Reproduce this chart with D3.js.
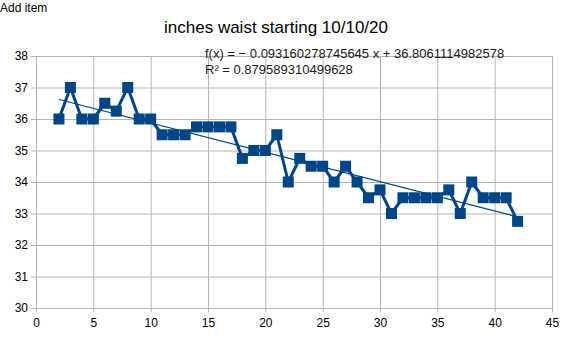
<!DOCTYPE html>
<html>
<head>
<meta charset="utf-8">
<script src="https://cdn.jsdelivr.net/npm/d3@7"></script>
<style>
  html, body { margin: 0; padding: 0; background: #fff; }
  svg { display: block; font-family: "Liberation Sans", Arial, sans-serif; }
</style>
</head>
<body>
<svg id="chart" width="570" height="340"></svg>
<script>
// Measurement day index and waist size in inches
const days = [2,3,4,5,6,7,8,9,10,11,12,13,14,15,16,17,18,19,20,21,22,23,24,25,26,27,28,29,30,31,32,33,34,35,36,37,38,39,40,41,42];
const waist = [36,37,36,36,36.5,36.25,37,36,36,35.5,35.5,35.5,35.75,35.75,35.75,35.75,34.75,35,35,35.5,34,34.75,34.5,34.5,34,34.5,34,33.5,33.75,33,33.5,33.5,33.5,33.5,33.75,33,34,33.5,33.5,33.5,32.75];

// Linear trend line coefficients and fit quality
const trendSlope = -0.093160278745645;
const trendIntercept = 36.8061114982578;
const trendR2 = 0.879589310499628;

const xTicks = [0,5,10,15,20,25,30,35,40,45];
const yTicks = [30,31,32,33,34,35,36,37,38];

const titleText = "inches waist starting 10/10/20";
const headerText = "Add item";

const svg = d3.select("#chart");
const plotLeft = 36, plotRight = 552, plotTop = 56, plotBottom = 308;

const x = d3.scaleLinear().domain([0, 45]).range([plotLeft, plotRight]);
const y = d3.scaleLinear().domain([30, 38]).range([plotBottom, plotTop]);

const gridColor = "#b3b3b3";

// Header text
svg.append("text")
  .attr("x", 0).attr("y", 12)
  .attr("font-size", 12)
  .attr("fill", "#000")
  .text(headerText);

// Title
svg.append("text")
  .attr("x", 276).attr("y", 33)
  .attr("text-anchor", "middle")
  .attr("font-size", 17)
  .attr("fill", "#000")
  .text(titleText);

// Horizontal grid lines and y axis
const yAxis = d3.axisLeft(y).tickValues(yTicks).tickSize(-(plotRight - plotLeft)).tickPadding(8).tickFormat(d3.format("d"));
const gy = svg.append("g").attr("transform", `translate(${plotLeft},0)`).call(yAxis);
gy.select(".domain").remove();
gy.selectAll(".tick line").attr("stroke", gridColor).attr("x1", -5);
gy.selectAll(".tick text").attr("font-size", 12).attr("fill", "#000").attr("font-family", "Liberation Sans, Arial, sans-serif");

// Vertical grid lines and x axis
const xAxis = d3.axisBottom(x).tickValues(xTicks).tickSize(-(plotBottom - plotTop)).tickPadding(8).tickFormat(d3.format("d"));
const gx = svg.append("g").attr("transform", `translate(0,${plotBottom})`).call(xAxis);
gx.select(".domain").remove();
gx.selectAll(".tick line").attr("stroke", gridColor).attr("y1", 4);
gx.selectAll(".tick text").attr("font-size", 12).attr("fill", "#000").attr("font-family", "Liberation Sans, Arial, sans-serif").attr("dy", "0.9em");

const blue = "#004586";

// Data line
const pts = days.map((d, i) => [d, waist[i]]);
svg.append("path")
  .datum(pts)
  .attr("fill", "none")
  .attr("stroke", blue)
  .attr("stroke-width", 3)
  .attr("stroke-linejoin", "round")
  .attr("d", d3.line().x(d => x(d[0])).y(d => y(d[1])));

// Trend line over the measured range
const xMin = d3.min(days), xMax = d3.max(days);
svg.append("line")
  .attr("x1", x(xMin)).attr("y1", y(trendSlope * xMin + trendIntercept))
  .attr("x2", x(xMax)).attr("y2", y(trendSlope * xMax + trendIntercept))
  .attr("stroke", blue)
  .attr("stroke-width", 1.2);

// Square markers
const ms = 11;
svg.append("g").selectAll("rect")
  .data(pts)
  .join("rect")
  .attr("x", d => x(d[0]) - ms / 2)
  .attr("y", d => y(d[1]) - ms / 2)
  .attr("width", ms).attr("height", ms)
  .attr("fill", blue);

// Trend equation
const eq = svg.append("g").attr("font-size", 13).attr("fill", "#1a1a1a");
eq.append("text").attr("x", 205).attr("y", 58)
  .text(`f(x) = \u2212 ${Math.abs(trendSlope)} x + ${trendIntercept}`);
eq.append("text").attr("x", 205).attr("y", 74)
  .text(`R\u00B2 = ${trendR2}`);
</script>
</body>
</html>
